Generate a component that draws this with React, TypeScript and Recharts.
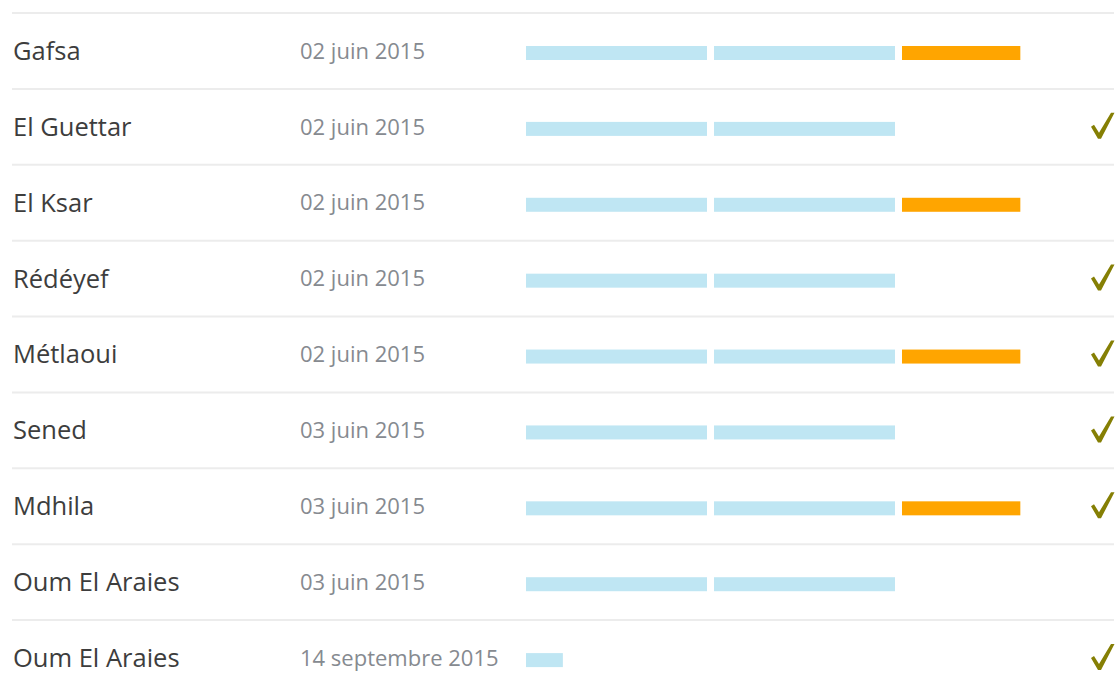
import React from "react";
import { BarChart, Bar, XAxis, YAxis } from "recharts";

const names = ["Gafsa", "El Guettar", "El Ksar", "Rédéyef", "Métlaoui", "Sened", "Mdhila", "Oum El Araies", "Oum El Araies"];
const dates = ["02 juin 2015", "02 juin 2015", "02 juin 2015", "02 juin 2015", "02 juin 2015", "03 juin 2015", "03 juin 2015", "03 juin 2015", "14 septembre 2015"];
const phase1 = [3, 3, 3, 3, 3, 3, 3, 3, 0.7];
const phase2 = [3, 3, 3, 3, 3, 3, 3, 3, 0];
const phase3 = [2, 0, 2, 0, 2, 0, 2, 0, 0];
const checked = [false, true, false, true, true, true, true, false, true];

const data = names.map((n, i) => ({
  id: i,
  p1: phase1[i],
  p2: phase2[i],
  p3: phase3[i],
}));

const W = 1116;
const H = 696;
const TOP = 13;
const BAND = (H - TOP) / names.length;
const GAP = 7;

const SegShape = (props: any) => {
  const { x, y, width, height, fill } = props;
  if (!width || width <= 0) return null;
  return <rect x={x} y={y + 2} width={Math.max(0, width - GAP)} height={height} fill={fill} />;
};

const LeftTick = (props: any) => {
  const { y, payload } = props;
  const i = payload.value as number;
  return (
    <g>
      <line x1={12} x2={W - 2} y1={y - BAND / 2} y2={y - BAND / 2} stroke="#ececec" strokeWidth={2} />
      <text x={13} y={y} dy="0.35em" fontFamily="'Open Sans', sans-serif" fontSize={25.5} fill="#3d3d3d">
        {names[i]}
      </text>
      <text x={300} y={y} dy="0.35em" fontFamily="'Open Sans', sans-serif" fontSize={22} fill="#868a90">
        {dates[i]}
      </text>
    </g>
  );
};

const RightTick = (props: any) => {
  const { x, y, payload } = props;
  const i = payload.value as number;
  if (!checked[i]) return null;
  const cx = x - 7;
  return (
    <path
      d={`M ${cx} ${y} L ${cx + 3} ${y - 2} L ${cx + 8} ${y + 6} L ${cx + 20} ${y - 14} L ${cx + 23.5} ${y - 14} L ${cx + 10} ${y + 12} L ${cx + 7} ${y + 12} Z`}
      fill="#857f04"
    />
  );
};

export default function App() {
  return (
    <div style={{ position: "absolute", left: 0, top: 0, width: W, height: 674, overflow: "hidden", background: "#fff" }}>
      <BarChart
        width={W}
        height={H}
        data={data}
        layout="vertical"
        margin={{ top: TOP, right: 0, bottom: 0, left: 0 }}
        barSize={14}
      >
        <XAxis type="number" hide domain={[0, 9]} />
        <YAxis
          yAxisId="left"
          type="category"
          dataKey="id"
          width={526}
          axisLine={false}
          tickLine={false}
          tick={<LeftTick />}
          interval={0}
        />
        <YAxis
          yAxisId="right"
          orientation="right"
          type="category"
          dataKey="id"
          width={26}
          axisLine={false}
          tickLine={false}
          tick={<RightTick />}
          interval={0}
        />
        <Bar yAxisId="left" dataKey="p1" stackId="s" fill="#bfe6f3" shape={<SegShape />} isAnimationActive={false} />
        <Bar yAxisId="left" dataKey="p2" stackId="s" fill="#bfe6f3" shape={<SegShape />} isAnimationActive={false} />
        <Bar yAxisId="left" dataKey="p3" stackId="s" fill="#ffa500" shape={<SegShape />} isAnimationActive={false} />
      </BarChart>
    </div>
  );
}
